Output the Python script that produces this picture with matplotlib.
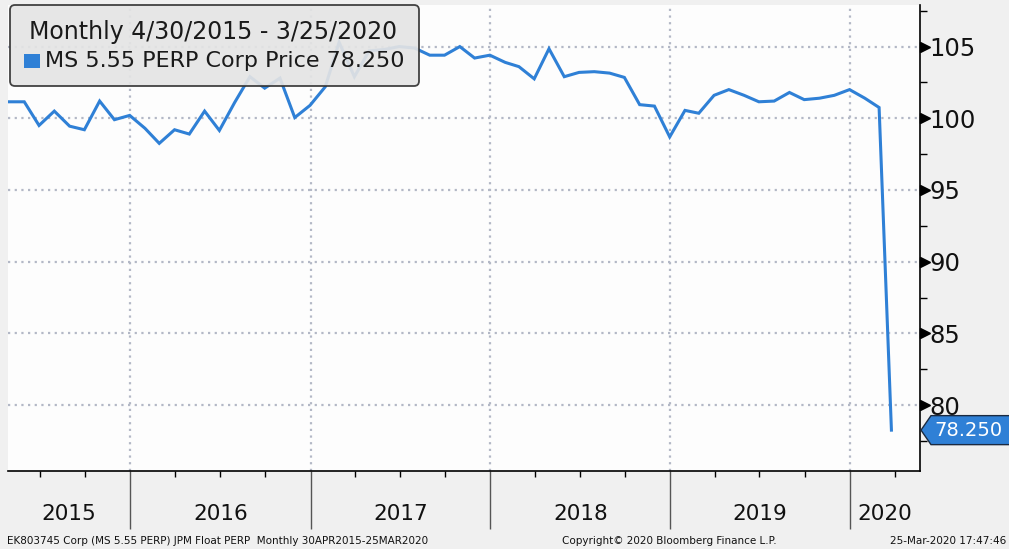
import matplotlib
matplotlib.use("Agg")
import matplotlib.pyplot as plt
import matplotlib.dates as mdates
import matplotlib.transforms as mtransforms
from matplotlib.patches import Polygon, FancyBboxPatch
import pandas as pd

# monthly prices, Apr 2015 -> Feb 2020 (month end), plus 25 Mar 2020
prices_2015 = [101.15, 101.15, 99.5, 100.5, 99.45, 99.2, 101.2, 99.9, 100.2]
prices_2016 = [99.3, 98.25, 99.2, 98.9, 100.5, 99.15, 101.1, 102.9, 102.1, 102.8, 100.05, 100.9]
prices_2017 = [102.2, 105.3, 102.9, 104.7, 104.8, 105.0, 104.9, 104.4, 104.4, 105.0, 104.2, 104.4]
prices_2018 = [103.9, 103.6, 102.75, 104.85, 102.9, 103.2, 103.25, 103.15, 102.85, 100.95, 100.85, 98.7]
prices_2019 = [100.55, 100.35, 101.6, 102.0, 101.6, 101.15, 101.2, 101.8, 101.3, 101.4, 101.6, 102.0]
prices_2020 = [101.4, 100.75, 78.25]

prices = prices_2015 + prices_2016 + prices_2017 + prices_2018 + prices_2019 + prices_2020
dates = list(pd.date_range("2015-04-30", "2020-02-29", freq="ME")) + [pd.Timestamp("2020-03-25")]

years = ["2015", "2016", "2017", "2018", "2019", "2020"]
last_price = "78.250"
y_ticks = [80, 85, 90, 95, 100, 105]

blue = "#2f80d6"
grid_col = "#b3b8c6"

fig = plt.figure(figsize=(10.09, 5.49), dpi=100, facecolor="#f0f0f0")
ax = fig.add_axes([8 / 1009, 78 / 549, 912 / 1009, 466 / 549])
ax.set_facecolor("#fdfdfd")

ax.plot(dates, prices, color=blue, lw=2.2, solid_joinstyle="miter", zorder=3)

xmin = mdates.date2num(pd.Timestamp("2015-04-28"))
xmax = mdates.date2num(pd.Timestamp("2020-05-22"))
ax.set_xlim(xmin, xmax)
ax.set_ylim(75.4, 107.9)

# spines
for s in ["left", "top"]:
    ax.spines[s].set_visible(False)
ax.spines["right"].set_linewidth(1.2)
ax.spines["bottom"].set_linewidth(1.2)

# y axis on the right
ax.yaxis.tick_right()
ax.set_yticks(y_ticks)
ax.set_yticks([77.5, 82.5, 87.5, 92.5, 97.5, 102.5, 107.5], minor=True)
ax.tick_params(axis="y", which="major", length=0, pad=7, labelsize=17.5, labelcolor="#111111")
ax.tick_params(axis="y", which="minor", length=5, width=1, direction="out")
tri_trans = mtransforms.offset_copy(ax.get_yaxis_transform(), fig=fig, x=5, y=0, units="dots")
ax.plot([1] * len(y_ticks), y_ticks, ls="none", marker=">", color="black",
        markersize=7, transform=tri_trans, clip_on=False, zorder=5)

# x axis: year separators and quarter ticks
ax.xaxis.set_major_locator(mdates.YearLocator())
ax.xaxis.set_minor_locator(mdates.MonthLocator(bymonth=[1, 4, 7, 10]))
ax.xaxis.set_major_formatter(plt.NullFormatter())
ax.tick_params(axis="x", which="major", length=42, width=1, color="#555555", direction="out")
ax.tick_params(axis="x", which="minor", length=4, width=1, color="black", direction="out")

ax.grid(True, which="major", color=grid_col, linestyle=(0, (1, 2)), lw=1.6)

# year labels centred in each visible year span
for yr in years:
    a = max(mdates.date2num(pd.Timestamp(yr + "-01-01")), xmin)
    b = min(mdates.date2num(pd.Timestamp(str(int(yr) + 1) + "-01-01")), xmax)
    ax.text((a + b) / 2, -0.092, yr, transform=ax.get_xaxis_transform(),
            ha="center", va="center", fontsize=15.5, color="#111111")

# last price tag
tag_trans = fig.dpi_scale_trans + mtransforms.ScaledTranslation(1, prices[-1], ax.get_yaxis_transform())
tag = Polygon([(0.01, 0), (0.11, 0.145), (0.92, 0.145), (0.92, -0.145), (0.11, -0.145)],
              closed=True, facecolor=blue, edgecolor="#1b2a40", lw=1, transform=tag_trans, clip_on=False, zorder=6)
fig.patches.append(tag)
fig.text(0.485, 0, last_price, transform=tag_trans, ha="center", va="center",
         fontsize=14, color="white", zorder=7)

# legend box
box = FancyBboxPatch((0.10, 4.63), 4.09, 0.81, boxstyle="round,pad=0,rounding_size=0.05",
                     transform=fig.dpi_scale_trans, facecolor="#e4e4e4", edgecolor="#333333",
                     lw=1.3, alpha=0.92, zorder=8)
fig.patches.append(box)
fig.text(213 / 1009, 1 - 32 / 549, "Monthly 4/30/2015 - 3/25/2020", ha="center", va="center",
         fontsize=17, color="#1a1a1a", zorder=9)
sq = FancyBboxPatch((0.24, 5.49 - 0.68), 0.16, 0.14, boxstyle="square,pad=0",
                    transform=fig.dpi_scale_trans, facecolor=blue, edgecolor="none", zorder=9)
fig.patches.append(sq)
fig.text(45 / 1009, 1 - 61 / 549, "MS 5.55 PERP Corp Price 78.250", ha="left", va="center",
         fontsize=16, color="#1a1a1a", zorder=9)

# footer
fig.text(7 / 1009, 1 - 541 / 549, "EK803745 Corp (MS 5.55 PERP) JPM Float PERP  Monthly 30APR2015-25MAR2020",
         ha="left", va="center", fontsize=7.5, color="#111111")
fig.text(562 / 1009, 1 - 541 / 549, "Copyright\u00a9 2020 Bloomberg Finance L.P.",
         ha="left", va="center", fontsize=7.5, color="#111111")
fig.text(1006 / 1009, 1 - 541 / 549, "25-Mar-2020 17:47:46",
         ha="right", va="center", fontsize=7.5, color="#111111")

fig.savefig("out.png", dpi=100, facecolor=fig.get_facecolor())
